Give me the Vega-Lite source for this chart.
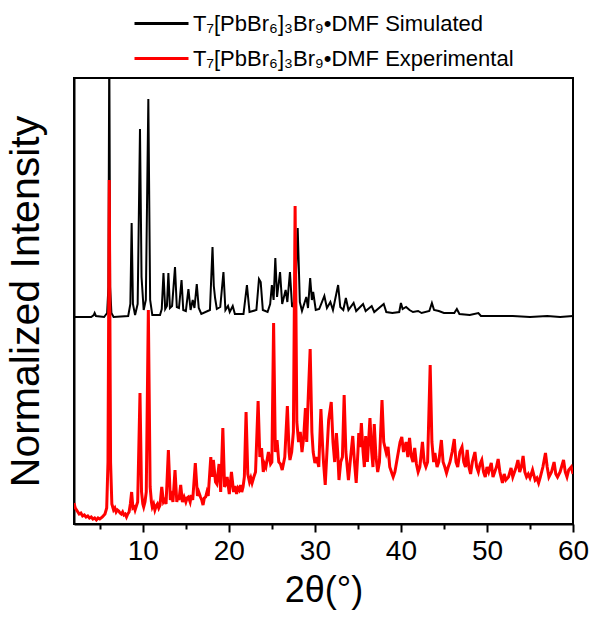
{
  "$schema": "https://vega.github.io/schema/vega-lite/v6.json",
  "width": 499,
  "height": 446,
  "autosize": {"type": "none"},
  "padding": {"left": 74, "top": 78, "right": 20, "bottom": 98},
  "background": "white",
  "config": {
    "font": "Liberation Sans",
    "view": {"stroke": "black", "strokeWidth": 2},
    "legend": {
      "orient": "none",
      "legendX": 59,
      "legendY": -72,
      "symbolType": "stroke",
      "symbolSize": 2916,
      "symbolStrokeWidth": 3,
      "labelFontSize": 22,
      "labelColor": "black",
      "labelOffset": 3,
      "clipHeight": 35,
      "rowPadding": 0,
      "title": null,
      "labelLimit": 600
    }
  },
  "datasets": {
    "sim": [
      {"x": 2.0, "y": 205}, {"x": 4.0, "y": 205}, {"x": 4.3, "y": 207}, {"x": 4.4, "y": 209}, {"x": 4.55, "y": 206},
      {"x": 5.5, "y": 205}, {"x": 5.85, "y": 209}, {"x": 6.0, "y": 235}, {"x": 6.1, "y": 480}, {"x": 6.2, "y": 235},
      {"x": 6.35, "y": 209}, {"x": 6.6, "y": 205}, {"x": 8.3, "y": 206}, {"x": 8.55, "y": 218}, {"x": 8.7, "y": 299},
      {"x": 8.85, "y": 218}, {"x": 9.1, "y": 207}, {"x": 9.4, "y": 218}, {"x": 9.67, "y": 393}, {"x": 9.85, "y": 245},
      {"x": 10.1, "y": 212}, {"x": 10.35, "y": 222}, {"x": 10.64, "y": 423}, {"x": 10.85, "y": 222}, {"x": 11.1, "y": 207},
      {"x": 12.0, "y": 207}, {"x": 12.2, "y": 213}, {"x": 12.4, "y": 249}, {"x": 12.6, "y": 213}, {"x": 12.8, "y": 216},
      {"x": 12.97, "y": 249}, {"x": 13.15, "y": 214}, {"x": 13.4, "y": 216}, {"x": 13.74, "y": 255}, {"x": 13.95, "y": 215},
      {"x": 14.2, "y": 214}, {"x": 14.5, "y": 242}, {"x": 14.7, "y": 212}, {"x": 15.0, "y": 211}, {"x": 15.3, "y": 233},
      {"x": 15.55, "y": 212}, {"x": 15.8, "y": 222}, {"x": 16.0, "y": 214}, {"x": 16.27, "y": 238}, {"x": 16.5, "y": 214},
      {"x": 16.8, "y": 208}, {"x": 17.8, "y": 212}, {"x": 18.1, "y": 275}, {"x": 18.25, "y": 236}, {"x": 18.4, "y": 224},
      {"x": 18.6, "y": 213}, {"x": 19.0, "y": 215}, {"x": 19.37, "y": 250}, {"x": 19.6, "y": 212}, {"x": 19.9, "y": 216},
      {"x": 20.1, "y": 210}, {"x": 20.45, "y": 216}, {"x": 20.7, "y": 208}, {"x": 21.7, "y": 208}, {"x": 22.1, "y": 237},
      {"x": 22.4, "y": 210}, {"x": 23.2, "y": 212}, {"x": 23.5, "y": 243}, {"x": 23.7, "y": 240}, {"x": 23.95, "y": 212},
      {"x": 24.5, "y": 210}, {"x": 24.8, "y": 218}, {"x": 25.0, "y": 237}, {"x": 25.2, "y": 222}, {"x": 25.4, "y": 264},
      {"x": 25.6, "y": 225}, {"x": 25.95, "y": 250}, {"x": 26.2, "y": 218}, {"x": 26.6, "y": 232}, {"x": 26.8, "y": 220},
      {"x": 27.1, "y": 250}, {"x": 27.35, "y": 215}, {"x": 27.7, "y": 222}, {"x": 28.0, "y": 294}, {"x": 28.25, "y": 220},
      {"x": 28.5, "y": 211}, {"x": 29.0, "y": 225}, {"x": 29.2, "y": 214}, {"x": 29.45, "y": 244}, {"x": 29.65, "y": 222},
      {"x": 29.8, "y": 230}, {"x": 30.1, "y": 212}, {"x": 30.5, "y": 213}, {"x": 31.1, "y": 226}, {"x": 31.4, "y": 214},
      {"x": 31.8, "y": 220}, {"x": 32.1, "y": 212}, {"x": 32.7, "y": 237}, {"x": 32.95, "y": 215}, {"x": 33.3, "y": 212},
      {"x": 33.6, "y": 224}, {"x": 33.9, "y": 212}, {"x": 34.5, "y": 219}, {"x": 34.8, "y": 211}, {"x": 35.6, "y": 218},
      {"x": 35.9, "y": 211}, {"x": 36.6, "y": 216}, {"x": 36.9, "y": 210}, {"x": 38.0, "y": 218}, {"x": 38.3, "y": 210},
      {"x": 39.0, "y": 209}, {"x": 39.8, "y": 210}, {"x": 40.0, "y": 219}, {"x": 40.2, "y": 213}, {"x": 40.6, "y": 215},
      {"x": 41.0, "y": 212}, {"x": 41.4, "y": 210}, {"x": 42.0, "y": 211}, {"x": 42.4, "y": 209}, {"x": 43.3, "y": 211},
      {"x": 43.6, "y": 219}, {"x": 43.85, "y": 212}, {"x": 44.4, "y": 211}, {"x": 45.0, "y": 209}, {"x": 46.2, "y": 209},
      {"x": 46.5, "y": 213}, {"x": 46.8, "y": 208}, {"x": 48.0, "y": 207}, {"x": 49.0, "y": 209}, {"x": 49.3, "y": 206},
      {"x": 51.0, "y": 206}, {"x": 53.0, "y": 206}, {"x": 55.0, "y": 205}, {"x": 57.0, "y": 206}, {"x": 58.5, "y": 205},
      {"x": 60.0, "y": 206}
    ],
    "exp": [
      {"x": 2.0, "y": 19}, {"x": 2.15, "y": 14}, {"x": 2.3, "y": 12}, {"x": 2.6, "y": 8}, {"x": 2.8, "y": 9}, {"x": 3.0, "y": 6}, {"x": 3.2, "y": 7}, {"x": 3.4, "y": 5},
      {"x": 3.6, "y": 6}, {"x": 3.8, "y": 4}, {"x": 4.0, "y": 5}, {"x": 4.2, "y": 3}, {"x": 4.4, "y": 4}, {"x": 4.6, "y": 2}, {"x": 4.8, "y": 4}, {"x": 5.0, "y": 3}, {"x": 5.3, "y": 5},
      {"x": 5.6, "y": 8}, {"x": 5.8, "y": 14}, {"x": 5.95, "y": 60}, {"x": 6.1, "y": 342}, {"x": 6.25, "y": 60},
      {"x": 6.4, "y": 18}, {"x": 6.6, "y": 12}, {"x": 6.75, "y": 14}, {"x": 6.9, "y": 10}, {"x": 7.05, "y": 12}, {"x": 7.2, "y": 11}, {"x": 7.35, "y": 9}, {"x": 7.5, "y": 8},
      {"x": 7.65, "y": 10}, {"x": 7.8, "y": 7}, {"x": 7.95, "y": 8}, {"x": 8.1, "y": 5}, {"x": 8.25, "y": 8}, {"x": 8.4, "y": 10}, {"x": 8.55, "y": 18}, {"x": 8.7, "y": 30},
      {"x": 8.85, "y": 14}, {"x": 9.0, "y": 15}, {"x": 9.1, "y": 12}, {"x": 9.25, "y": 16}, {"x": 9.4, "y": 20}, {"x": 9.67, "y": 129}, {"x": 9.85, "y": 30},
      {"x": 10.0, "y": 18}, {"x": 10.1, "y": 15}, {"x": 10.25, "y": 20}, {"x": 10.4, "y": 30}, {"x": 10.64, "y": 212}, {"x": 10.85, "y": 35}, {"x": 11.0, "y": 20}, {"x": 11.1, "y": 15},
      {"x": 11.25, "y": 18}, {"x": 11.4, "y": 12}, {"x": 11.55, "y": 16}, {"x": 11.7, "y": 18}, {"x": 11.85, "y": 14}, {"x": 12.0, "y": 17}, {"x": 12.2, "y": 35}, {"x": 12.4, "y": 20},
      {"x": 12.55, "y": 22}, {"x": 12.7, "y": 18}, {"x": 12.97, "y": 72}, {"x": 13.2, "y": 22}, {"x": 13.35, "y": 26}, {"x": 13.5, "y": 20}, {"x": 13.74, "y": 52},
      {"x": 13.95, "y": 20}, {"x": 14.05, "y": 26}, {"x": 14.2, "y": 22}, {"x": 14.4, "y": 37}, {"x": 14.6, "y": 20}, {"x": 14.8, "y": 25}, {"x": 15.0, "y": 20},
      {"x": 15.15, "y": 24}, {"x": 15.3, "y": 25}, {"x": 15.5, "y": 20}, {"x": 15.65, "y": 27}, {"x": 15.8, "y": 22}, {"x": 16.1, "y": 59}, {"x": 16.35, "y": 26},
      {"x": 16.5, "y": 30}, {"x": 16.7, "y": 25}, {"x": 16.85, "y": 22}, {"x": 17.0, "y": 17}, {"x": 17.15, "y": 24}, {"x": 17.3, "y": 25}, {"x": 17.45, "y": 30}, {"x": 17.6, "y": 26}, {"x": 17.9, "y": 65},
      {"x": 18.05, "y": 45}, {"x": 18.2, "y": 62}, {"x": 18.45, "y": 40}, {"x": 18.6, "y": 38}, {"x": 18.86, "y": 58},
      {"x": 19.05, "y": 30}, {"x": 19.3, "y": 94}, {"x": 19.5, "y": 35}, {"x": 19.65, "y": 38}, {"x": 19.8, "y": 45}, {"x": 20.05, "y": 28},
      {"x": 20.3, "y": 50}, {"x": 20.55, "y": 30}, {"x": 20.7, "y": 36}, {"x": 20.9, "y": 28}, {"x": 21.05, "y": 34}, {"x": 21.2, "y": 32}, {"x": 21.35, "y": 37}, {"x": 21.5, "y": 30},
      {"x": 21.65, "y": 35}, {"x": 21.8, "y": 45}, {"x": 22.0, "y": 110}, {"x": 22.2, "y": 48}, {"x": 22.4, "y": 40}, {"x": 22.55, "y": 44}, {"x": 22.7, "y": 39},
      {"x": 22.9, "y": 45}, {"x": 23.1, "y": 50}, {"x": 23.4, "y": 121}, {"x": 23.6, "y": 65}, {"x": 23.8, "y": 74},
      {"x": 24.0, "y": 50}, {"x": 24.15, "y": 58}, {"x": 24.3, "y": 55}, {"x": 24.6, "y": 70}, {"x": 24.85, "y": 58}, {"x": 25.0, "y": 60},
      {"x": 25.2, "y": 199}, {"x": 25.4, "y": 70}, {"x": 25.6, "y": 82}, {"x": 25.8, "y": 60}, {"x": 26.0, "y": 58},
      {"x": 26.2, "y": 52}, {"x": 26.5, "y": 65}, {"x": 26.8, "y": 116}, {"x": 27.0, "y": 70}, {"x": 27.1, "y": 62},
      {"x": 27.3, "y": 70}, {"x": 27.5, "y": 90}, {"x": 27.7, "y": 316}, {"x": 27.9, "y": 100}, {"x": 28.1, "y": 80},
      {"x": 28.3, "y": 90}, {"x": 28.5, "y": 70}, {"x": 28.7, "y": 85}, {"x": 28.9, "y": 114}, {"x": 29.05, "y": 80},
      {"x": 29.2, "y": 119}, {"x": 29.45, "y": 173}, {"x": 29.65, "y": 90}, {"x": 29.8, "y": 70}, {"x": 30.0, "y": 59},
      {"x": 30.2, "y": 65}, {"x": 30.45, "y": 55}, {"x": 30.7, "y": 113}, {"x": 30.9, "y": 75}, {"x": 31.0, "y": 60},
      {"x": 31.2, "y": 37}, {"x": 31.4, "y": 70}, {"x": 31.6, "y": 102}, {"x": 31.9, "y": 120}, {"x": 32.1, "y": 80},
      {"x": 32.3, "y": 60}, {"x": 32.5, "y": 89}, {"x": 32.65, "y": 70}, {"x": 32.8, "y": 42}, {"x": 33.0, "y": 60},
      {"x": 33.2, "y": 65}, {"x": 33.4, "y": 127}, {"x": 33.6, "y": 70}, {"x": 33.9, "y": 42}, {"x": 34.1, "y": 60},
      {"x": 34.4, "y": 86}, {"x": 34.6, "y": 60}, {"x": 34.8, "y": 39}, {"x": 35.0, "y": 70}, {"x": 35.1, "y": 89},
      {"x": 35.25, "y": 75}, {"x": 35.4, "y": 99}, {"x": 35.6, "y": 70}, {"x": 35.75, "y": 55}, {"x": 35.9, "y": 86},
      {"x": 36.1, "y": 60}, {"x": 36.4, "y": 104}, {"x": 36.6, "y": 70}, {"x": 36.75, "y": 55}, {"x": 36.9, "y": 98},
      {"x": 37.1, "y": 65}, {"x": 37.3, "y": 50}, {"x": 37.5, "y": 60}, {"x": 37.8, "y": 122}, {"x": 38.0, "y": 80},
      {"x": 38.3, "y": 69}, {"x": 38.5, "y": 75}, {"x": 38.7, "y": 55}, {"x": 38.9, "y": 50}, {"x": 39.1, "y": 45},
      {"x": 39.3, "y": 50}, {"x": 39.6, "y": 65}, {"x": 39.9, "y": 80}, {"x": 40.1, "y": 85}, {"x": 40.3, "y": 70},
      {"x": 40.6, "y": 80}, {"x": 40.8, "y": 65}, {"x": 41.0, "y": 84}, {"x": 41.2, "y": 66}, {"x": 41.4, "y": 60},
      {"x": 41.6, "y": 74}, {"x": 41.8, "y": 58}, {"x": 42.0, "y": 50}, {"x": 42.2, "y": 55}, {"x": 42.5, "y": 80},
      {"x": 42.7, "y": 60}, {"x": 42.9, "y": 55}, {"x": 43.1, "y": 60}, {"x": 43.4, "y": 157}, {"x": 43.6, "y": 80},
      {"x": 43.8, "y": 60}, {"x": 43.95, "y": 69}, {"x": 44.2, "y": 55}, {"x": 44.4, "y": 60}, {"x": 44.7, "y": 82},
      {"x": 44.9, "y": 60}, {"x": 45.1, "y": 55}, {"x": 45.3, "y": 49}, {"x": 45.5, "y": 55}, {"x": 45.7, "y": 60},
      {"x": 45.95, "y": 70}, {"x": 46.2, "y": 83}, {"x": 46.4, "y": 60}, {"x": 46.6, "y": 55}, {"x": 46.85, "y": 70},
      {"x": 47.1, "y": 75}, {"x": 47.3, "y": 60}, {"x": 47.5, "y": 55}, {"x": 47.7, "y": 72}, {"x": 47.9, "y": 55},
      {"x": 48.1, "y": 48}, {"x": 48.3, "y": 60}, {"x": 48.6, "y": 70}, {"x": 48.8, "y": 55}, {"x": 49.0, "y": 50},
      {"x": 49.2, "y": 58}, {"x": 49.4, "y": 62}, {"x": 49.6, "y": 50}, {"x": 49.8, "y": 45}, {"x": 50.0, "y": 55},
      {"x": 50.2, "y": 50}, {"x": 50.5, "y": 59}, {"x": 50.7, "y": 45}, {"x": 50.9, "y": 50}, {"x": 51.1, "y": 55},
      {"x": 51.3, "y": 63}, {"x": 51.5, "y": 50}, {"x": 51.8, "y": 39}, {"x": 52.0, "y": 48}, {"x": 52.2, "y": 42},
      {"x": 52.5, "y": 45}, {"x": 52.8, "y": 54}, {"x": 53.0, "y": 45}, {"x": 53.2, "y": 50}, {"x": 53.4, "y": 55},
      {"x": 53.6, "y": 62}, {"x": 53.8, "y": 50}, {"x": 54.0, "y": 55}, {"x": 54.2, "y": 66}, {"x": 54.4, "y": 50},
      {"x": 54.6, "y": 45}, {"x": 54.8, "y": 48}, {"x": 55.0, "y": 44}, {"x": 55.3, "y": 52}, {"x": 55.6, "y": 42},
      {"x": 55.8, "y": 44}, {"x": 56.0, "y": 39}, {"x": 56.2, "y": 45}, {"x": 56.5, "y": 55}, {"x": 56.8, "y": 69},
      {"x": 57.0, "y": 55}, {"x": 57.2, "y": 45}, {"x": 57.5, "y": 50}, {"x": 57.8, "y": 60}, {"x": 58.0, "y": 48},
      {"x": 58.2, "y": 45}, {"x": 58.5, "y": 50}, {"x": 58.9, "y": 62}, {"x": 59.1, "y": 50}, {"x": 59.3, "y": 45},
      {"x": 59.5, "y": 52}, {"x": 59.8, "y": 55}, {"x": 60.0, "y": 48}
    ]
  },
  "resolve": {"axis": {"x": "independent"}},
  "layer": [
    {
      "data": {"name": "sim"},
      "mark": {"type": "line", "clip": true, "strokeWidth": 2},
      "encoding": {
        "x": {
          "field": "x",
          "type": "quantitative",
          "scale": {"domain": [2, 60], "nice": false, "zero": false},
          "axis": {
            "orient": "bottom",
            "title": "2θ(°)",
            "titleFontSize": 36,
            "titleFontWeight": "normal",
            "titleColor": "black",
            "titlePadding": 8,
            "values": [10, 20, 30, 40, 50, 60],
            "labelFontSize": 28,
            "labelColor": "black",
            "labelPadding": 5,
            "labelFlush": false,
            "labelOverlap": false,
            "tickSize": 8,
            "tickColor": "black",
            "tickWidth": 2,
            "domainColor": "black",
            "domainWidth": 2,
            "grid": false
          }
        },
        "y": {
          "field": "y",
          "type": "quantitative",
          "scale": {"domain": [-2, 444], "nice": false, "zero": false},
          "axis": {
            "title": "Normalized Intensity",
            "titleFontSize": 41,
            "titleFontWeight": "normal",
            "titleColor": "black",
            "titlePadding": 27,
            "labels": false,
            "ticks": false,
            "grid": false,
            "domainColor": "black",
            "domainWidth": 2
          }
        },
        "color": {
          "datum": "T₇[PbBr₆]₃Br₉•DMF Simulated",
          "scale": {
            "domain": ["T₇[PbBr₆]₃Br₉•DMF Simulated", "T₇[PbBr₆]₃Br₉•DMF Experimental"],
            "range": ["black", "#ff0000"]
          }
        }
      }
    },
    {
      "data": {"name": "exp"},
      "mark": {"type": "line", "clip": true, "strokeWidth": 3},
      "encoding": {
        "x": {"field": "x", "type": "quantitative", "axis": null},
        "y": {"field": "y", "type": "quantitative"},
        "color": {"datum": "T₇[PbBr₆]₃Br₉•DMF Experimental"}
      }
    },
    {
      "data": {"name": "exp"},
      "mark": {"type": "line", "opacity": 0},
      "encoding": {
        "x": {
          "field": "x",
          "type": "quantitative",
          "axis": {
            "orient": "bottom",
            "title": null,
            "values": [5, 15, 25, 35, 45, 55],
            "labels": false,
            "domain": false,
            "grid": false,
            "tickSize": 5,
            "tickColor": "black",
            "tickWidth": 2
          }
        },
        "y": {"field": "y", "type": "quantitative"}
      }
    }
  ]
}
